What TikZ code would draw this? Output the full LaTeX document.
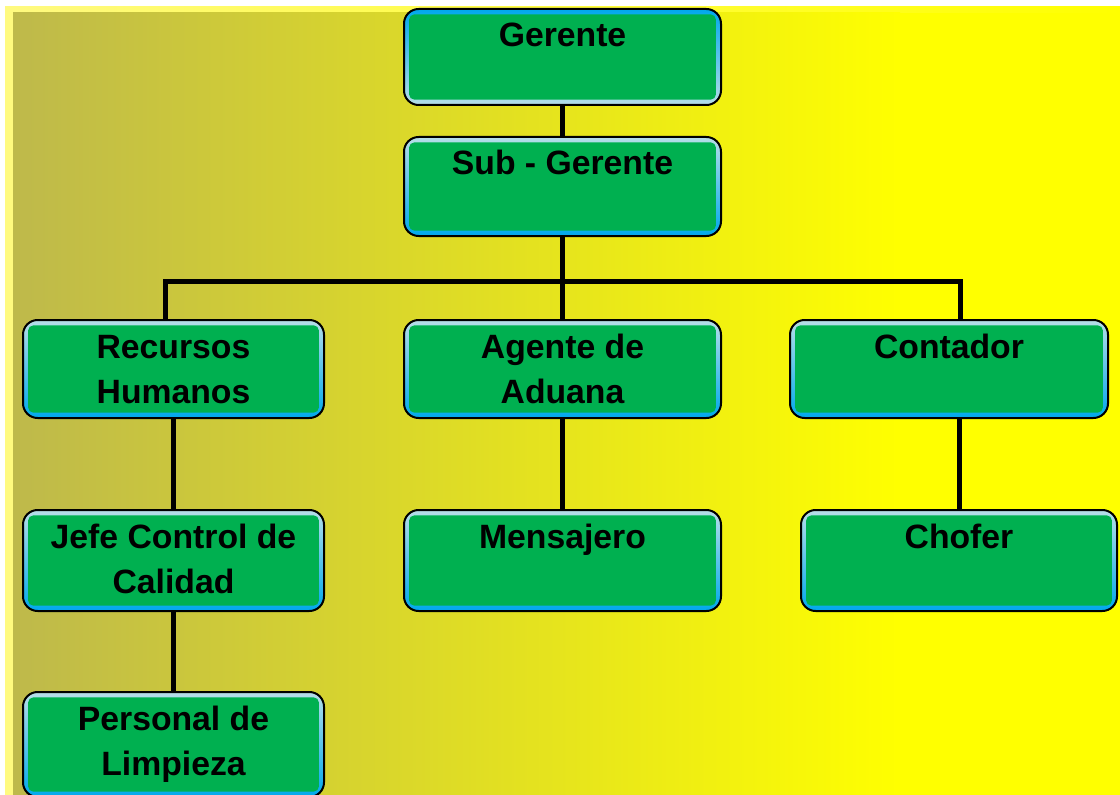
\documentclass[tikz,border=0pt]{standalone}
\usepackage{fontspec}
\setmainfont{Liberation Sans}
\usepackage{tikz}
\usetikzlibrary{calc,positioning}
\definecolor{boxgreen}{RGB}{0,176,80}
\definecolor{bevlight}{RGB}{183,222,232}
\definecolor{bevblue}{RGB}{0,168,236}
\definecolor{bgolive}{RGB}{190,185,75}
\definecolor{bgpale}{RGB}{255,250,128}
\definecolor{bgyellow}{RGB}{255,255,0}
% box text: width, height, lines
\newcommand{\orgtext}[3]{\parbox[c][#2][t]{#1}{\centering\rule{0pt}{28.5pt}#3}}

\begin{document}
\begin{tikzpicture}[x=0.75pt, y=-0.75pt,
  orgbox/.style={draw=black, line width=1.5pt, rounded corners=11pt, inner sep=0pt,
    top color=bevlight, bottom color=bevblue,
    font=\fontsize{25.3}{33.75}\selectfont\bfseries,
    path picture={\fill[boxgreen, rounded corners=4pt]
      ([shift={(3.8pt,4pt)}]path picture bounding box.south west) rectangle
      ([shift={(-3.8pt,-4pt)}]path picture bounding box.north east);}},
  link/.style={draw=black, line width=3.75pt}]
   \useasboundingbox (0,0) rectangle (1120,795);
   % background
   \fill[white] (0,0) rectangle (1120,795);
   \shade[left color=bgpale, right color=bgyellow] (5,7) rectangle (1120,795);
   \shade[left color=bgolive, right color=bgyellow] (13,13) rectangle (900,795);
   \fill[bgyellow] (900,13) rectangle (1120,795);
   \begin{scope}[every node/.style={orgbox}]
    \node (ger) [top color=bevblue, bottom color=bevlight] at (562.5,57) {\orgtext{237.75pt}{72pt}{Gerente}};
    \node (sub) at (562.5,186.5) {\orgtext{237.75pt}{74.25pt}{Sub - Gerente}};
    \node (rrhh) at (173.5,369) {\orgtext{225.75pt}{73.5pt}{Recursos\\Humanos}};
    \node (agente) at (562.5,369) {\orgtext{237.75pt}{73.5pt}{Agente de\\Aduana}};
    \node (contador) at (949,369) {\orgtext{238.5pt}{73.5pt}{Contador}};
    \node (jefe) at (173.5,560.5) {\orgtext{225.75pt}{75.75pt}{Jefe Control de\\Calidad}};
    \node (mensajero) at (562.5,560.5) {\orgtext{237.75pt}{75.75pt}{Mensajero}};
    \node (chofer) at (959,560.5) {\orgtext{237pt}{75.75pt}{Chofer}};
    \node (limpieza) at (173.5,744.5) {\orgtext{225.75pt}{78.75pt}{Personal de\\Limpieza}};
   \end{scope}
   \coordinate (busL) at (165,281);
   \coordinate (busR) at (960,281);
   \draw[link] (busL |- rrhh.north) -- (busL) -- (busR) -- (busR |- contador.north);
   \begin{scope}[every edge/.style={link}]
    \draw (ger) edge (sub);
    \draw (sub) edge (agente);
    \draw (rrhh) edge (jefe);
    \draw (jefe) edge (limpieza);
    \draw (agente) edge (mensajero);
    \draw (chofer.north) edge (chofer.north |- contador.south);
   \end{scope}
\end{tikzpicture}
\end{document}
